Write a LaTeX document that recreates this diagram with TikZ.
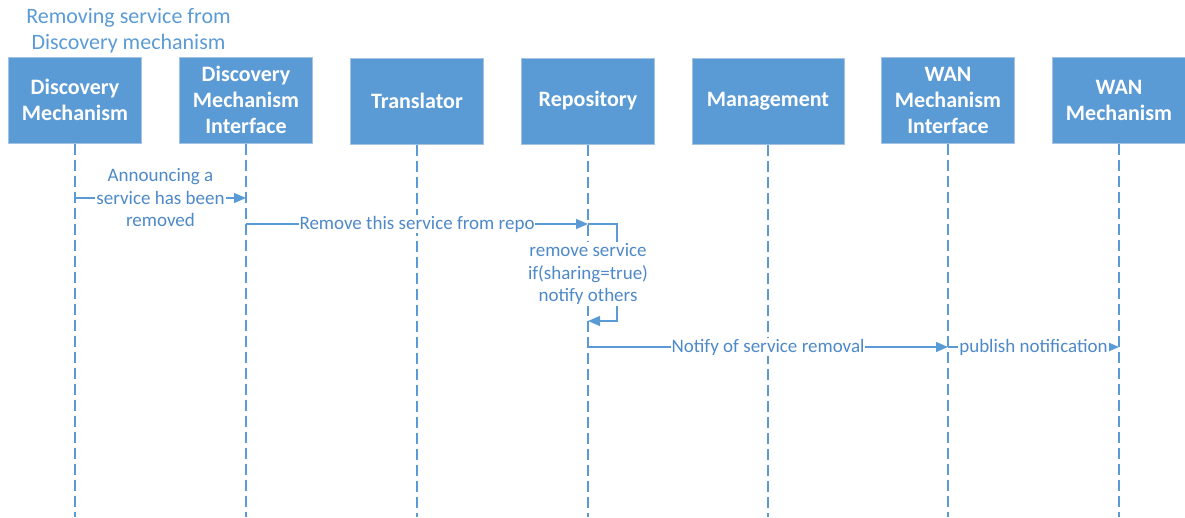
\documentclass[tikz,border=0pt]{standalone}
\usepackage{fontspec}
\setmainfont{Carlito}
\usetikzlibrary{arrows.meta}
\definecolor{boxblue}{HTML}{5B9BD5}
\definecolor{boxedge}{HTML}{A3C2E4}
\definecolor{msgblue}{HTML}{5B9BD5}
\definecolor{txtblue}{HTML}{4E89C8}
\begin{document}
\begin{tikzpicture}[x=1pt,y=-1pt,
  actor/.style={draw=boxedge, line width=1pt, fill=boxblue, text=white,
    font=\fontsize{22}{26}\selectfont\bfseries, align=center,
    minimum height=86pt, minimum width=133pt, inner sep=0pt},
  lifeline/.style={draw=msgblue, line width=1.3pt, dash pattern=on 11pt off 5pt},
  msg/.style={draw=msgblue, line width=1.3pt, -{Triangle[length=12pt,width=10pt]}},
  lbl/.style={fill=white, text=txtblue, font=\fontsize{19}{22.5}\selectfont,
    align=center, inner sep=1pt},
  heading/.style={text=boxblue, font=\fontsize{22}{26}\selectfont, align=center}
]
\useasboundingbox (0,0) rectangle (1185,517);

% heading
\node[heading] (title) at (128.5,31) {Removing service from\\Discovery mechanism};

% participants
\node[actor] (dm)   at (75,100)   {Discovery\\Mechanism};
\node[actor] (dmi)  at (246,100)  {Discovery\\Mechanism\\Interface};
\node[actor] (tr)   at (417,101)  {Translator};
\node[actor] (rep)  at (588,101)  {Repository};
\node[actor, minimum width=152pt] (mgmt) at (768,101) {Management};
\node[actor] (wmi)  at (948,100)  {WAN\\Mechanism\\Interface};
\node[actor] (wm)   at (1119,100) {WAN\\Mechanism};

% reference heights
\coordinate (bot) at (0,517);
\coordinate (y1) at (0,198);
\coordinate (y2) at (0,224);
\coordinate (y3) at (0,321);
\coordinate (y4) at (0,347);
\coordinate (ynote) at (0,274);

% lifelines
\foreach \p in {dm,dmi,tr,rep,mgmt,wmi,wm}
  \draw[lifeline] (\p.south) -- (\p.south |- bot);

% messages
\draw[msg] (dm.south |- y1) -- node[lbl] {Announcing a\\service has been\\removed} (dmi.south |- y1);
\draw[msg] (dmi.south |- y2) -- node[lbl] {Remove this service from repo} (rep.south |- y2);
\draw[msg] (rep.south |- y2) -- ++(29,0) |- (rep.south |- y3);
\node[lbl] (note) at (rep.south |- ynote) {remove service\\if(sharing=true)\\notify others};
\draw[msg] (rep.south |- y4) -- node[lbl] {Notify of service removal} (wmi.south |- y4);
\draw[msg] (wmi.south |- y4) -- node[lbl] {publish notification} (wm.south |- y4);
\end{tikzpicture}
\end{document}
